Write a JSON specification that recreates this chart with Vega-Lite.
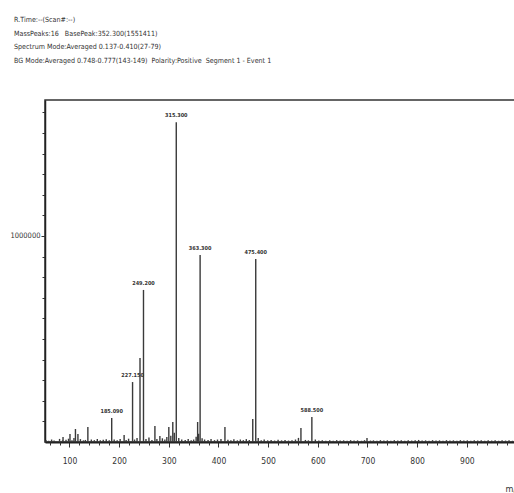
{
  "$schema": "https://vega.github.io/schema/vega-lite/v6.json",
  "autosize": "none",
  "padding": {"left": 45, "top": 100, "right": 0, "bottom": 51},
  "width": 470,
  "height": 342,
  "background": "white",
  "title": {
    "text": [
      "R.Time:--(Scan#:--)",
      "MassPeaks:16\u00a0\u00a0\u00a0BasePeak:352.300(1551411)",
      "Spectrum Mode:Averaged 0.137-0.410(27-79)",
      "BG Mode:Averaged 0.748-0.777(143-149)\u00a0 Polarity:Positive\u00a0 Segment 1 - Event 1"
    ],
    "anchor": "start",
    "frame": "group",
    "dx": -31,
    "offset": 36,
    "font": "DejaVu Sans Condensed, sans-serif",
    "fontSize": 7.1,
    "fontWeight": "normal",
    "lineHeight": 13.5,
    "color": "#333"
  },
  "config": {
    "view": {"stroke": "#333", "strokeWidth": 1.5},
    "axis": {
      "labelFont": "DejaVu Sans Condensed, sans-serif",
      "titleFont": "DejaVu Sans Condensed, sans-serif",
      "labelColor": "#333",
      "tickColor": "#333",
      "domainColor": "#222",
      "grid": false
    }
  },
  "data": {
    "values": [
      {"mz": 185, "i": 117000, "label": "185.090"},
      {"mz": 227, "i": 291000, "label": "227.150"},
      {"mz": 242, "i": 408000},
      {"mz": 249, "i": 738000, "label": "249.200"},
      {"mz": 315, "i": 1551411, "label": "315.300"},
      {"mz": 363, "i": 908000, "label": "363.300"},
      {"mz": 475, "i": 888000, "label": "475.400"},
      {"mz": 566, "i": 68000},
      {"mz": 588, "i": 121000, "label": "588.500"},
      {"mz": 87, "i": 24000},
      {"mz": 101, "i": 39000},
      {"mz": 112, "i": 63000},
      {"mz": 117, "i": 39000},
      {"mz": 137, "i": 73000},
      {"mz": 210, "i": 34000},
      {"mz": 272, "i": 78000},
      {"mz": 282, "i": 29000},
      {"mz": 300, "i": 73000},
      {"mz": 308, "i": 97000},
      {"mz": 358, "i": 97000},
      {"mz": 413, "i": 73000},
      {"mz": 469, "i": 112000},
      {"mz": 699, "i": 19000},
      {"mz": 53, "i": 9000}, {"mz": 58, "i": 6000}, {"mz": 64, "i": 12000}, {"mz": 69, "i": 7000},
      {"mz": 80, "i": 15000}, {"mz": 86, "i": 8000}, {"mz": 93, "i": 11000}, {"mz": 98, "i": 16000},
      {"mz": 105, "i": 9000}, {"mz": 109, "i": 20000}, {"mz": 122, "i": 14000}, {"mz": 128, "i": 8000},
      {"mz": 132, "i": 10000}, {"mz": 144, "i": 12000}, {"mz": 150, "i": 9000}, {"mz": 156, "i": 15000},
      {"mz": 162, "i": 8000}, {"mz": 168, "i": 11000}, {"mz": 174, "i": 13000}, {"mz": 180, "i": 9000},
      {"mz": 190, "i": 12000}, {"mz": 196, "i": 8000}, {"mz": 202, "i": 14000}, {"mz": 214, "i": 10000},
      {"mz": 219, "i": 16000}, {"mz": 231, "i": 12000}, {"mz": 236, "i": 20000}, {"mz": 254, "i": 15000},
      {"mz": 260, "i": 22000}, {"mz": 266, "i": 10000}, {"mz": 276, "i": 14000}, {"mz": 287, "i": 18000},
      {"mz": 292, "i": 12000}, {"mz": 296, "i": 24000}, {"mz": 304, "i": 30000}, {"mz": 311, "i": 45000},
      {"mz": 320, "i": 20000}, {"mz": 326, "i": 12000}, {"mz": 333, "i": 10000}, {"mz": 339, "i": 14000},
      {"mz": 345, "i": 9000}, {"mz": 350, "i": 12000}, {"mz": 355, "i": 25000}, {"mz": 360, "i": 40000},
      {"mz": 367, "i": 18000}, {"mz": 372, "i": 12000}, {"mz": 379, "i": 10000}, {"mz": 385, "i": 14000},
      {"mz": 392, "i": 9000}, {"mz": 398, "i": 12000}, {"mz": 405, "i": 15000}, {"mz": 419, "i": 11000},
      {"mz": 425, "i": 9000}, {"mz": 431, "i": 13000}, {"mz": 438, "i": 8000}, {"mz": 444, "i": 12000},
      {"mz": 450, "i": 9000}, {"mz": 456, "i": 14000}, {"mz": 462, "i": 10000}, {"mz": 480, "i": 20000},
      {"mz": 486, "i": 9000}, {"mz": 492, "i": 12000}, {"mz": 499, "i": 8000}, {"mz": 506, "i": 10000},
      {"mz": 513, "i": 7000}, {"mz": 520, "i": 11000}, {"mz": 527, "i": 8000}, {"mz": 534, "i": 10000},
      {"mz": 541, "i": 7000}, {"mz": 548, "i": 9000}, {"mz": 555, "i": 12000}, {"mz": 561, "i": 20000},
      {"mz": 575, "i": 10000}, {"mz": 581, "i": 8000}, {"mz": 595, "i": 12000}, {"mz": 602, "i": 7000},
      {"mz": 609, "i": 9000}, {"mz": 616, "i": 6000}, {"mz": 624, "i": 8000}, {"mz": 631, "i": 6000},
      {"mz": 638, "i": 9000}, {"mz": 645, "i": 7000}, {"mz": 652, "i": 8000}, {"mz": 659, "i": 6000},
      {"mz": 666, "i": 9000}, {"mz": 673, "i": 7000}, {"mz": 680, "i": 8000}, {"mz": 688, "i": 6000},
      {"mz": 694, "i": 9000}, {"mz": 706, "i": 7000}, {"mz": 712, "i": 8000}, {"mz": 719, "i": 6000},
      {"mz": 726, "i": 9000}, {"mz": 733, "i": 7000}, {"mz": 740, "i": 8000}, {"mz": 747, "i": 6000},
      {"mz": 754, "i": 9000}, {"mz": 761, "i": 7000}, {"mz": 768, "i": 8000}, {"mz": 775, "i": 6000},
      {"mz": 782, "i": 9000}, {"mz": 789, "i": 7000}, {"mz": 796, "i": 8000}, {"mz": 803, "i": 10000},
      {"mz": 810, "i": 7000}, {"mz": 817, "i": 8000}, {"mz": 824, "i": 6000}, {"mz": 831, "i": 9000},
      {"mz": 838, "i": 7000}, {"mz": 845, "i": 8000}, {"mz": 852, "i": 6000}, {"mz": 859, "i": 9000},
      {"mz": 866, "i": 7000}, {"mz": 873, "i": 8000}, {"mz": 880, "i": 6000}, {"mz": 887, "i": 9000},
      {"mz": 894, "i": 7000}, {"mz": 901, "i": 8000}, {"mz": 908, "i": 6000}, {"mz": 915, "i": 9000},
      {"mz": 922, "i": 7000}, {"mz": 929, "i": 8000}, {"mz": 936, "i": 6000}, {"mz": 943, "i": 9000},
      {"mz": 950, "i": 7000}, {"mz": 957, "i": 8000}, {"mz": 964, "i": 6000}, {"mz": 971, "i": 9000},
      {"mz": 978, "i": 7000}, {"mz": 985, "i": 8000}, {"mz": 992, "i": 6000}
    ]
  },
  "layer": [
    {
      "mark": {"type": "rule", "color": "#3a3a3a", "strokeWidth": 1.4},
      "encoding": {
        "x": {
          "field": "mz", "type": "quantitative",
          "scale": {"domain": [50.7, 997], "nice": false, "zero": false},
          "axis": {
            "orient": "bottom",
            "values": [100, 200, 300, 400, 500, 600, 700, 800, 900],
            "tickSize": 5, "tickWidth": 1, "domainWidth": 2,
            "labelFontSize": 8.5, "labelPadding": 9,
            "title": "m/z", "titleFontSize": 9, "titleFontWeight": "normal",
            "titleColor": "#333", "titleAnchor": "end", "titleAlign": "left",
            "titleX": 460, "titleY": 42
          }
        },
        "y": {
          "field": "i", "type": "quantitative",
          "scale": {"domain": [0, 1660000], "nice": false},
          "axis": {
            "orient": "left",
            "values": [100000, 200000, 300000, 400000, 500000, 600000, 700000, 800000, 900000, 1100000, 1200000, 1300000, 1400000, 1500000, 1600000],
            "labels": false,
            "tickSize": 3, "tickWidth": 1, "domainWidth": 1.5,
            "title": null
          }
        },
        "y2": {"datum": 0}
      }
    },
    {
      "transform": [{"filter": "datum.label"}],
      "mark": {
        "type": "text", "dy": -5, "fontSize": 5.5, "fontWeight": "bold",
        "font": "DejaVu Sans Condensed, sans-serif",
        "color": "#333", "baseline": "alphabetic"
      },
      "encoding": {
        "x": {"field": "mz", "type": "quantitative", "axis": null},
        "y": {"field": "i", "type": "quantitative", "axis": null},
        "text": {"field": "label"}
      }
    },
    {
      "mark": {"type": "rule", "opacity": 0},
      "encoding": {
        "x": {
          "field": "mz", "type": "quantitative",
          "axis": {
            "orient": "bottom",
            "values": [60, 80, 120, 140, 160, 180, 220, 240, 260, 280, 320, 340, 360, 380, 420, 440, 460, 480, 520, 540, 560, 580, 620, 640, 660, 680, 720, 740, 760, 780, 820, 840, 860, 880, 920, 940, 960, 980],
            "labels": false, "tickSize": 3, "tickWidth": 1, "domain": false, "title": null
          }
        },
        "y": {
          "field": "i", "type": "quantitative",
          "axis": {
            "orient": "left",
            "values": [1000000],
            "format": "d",
            "tickSize": 4, "tickWidth": 1, "domain": false,
            "labelFontSize": 7.5, "labelPadding": 1,
            "title": null
          }
        }
      }
    }
  ],
  "resolve": {"axis": {"x": "independent", "y": "independent"}}
}
